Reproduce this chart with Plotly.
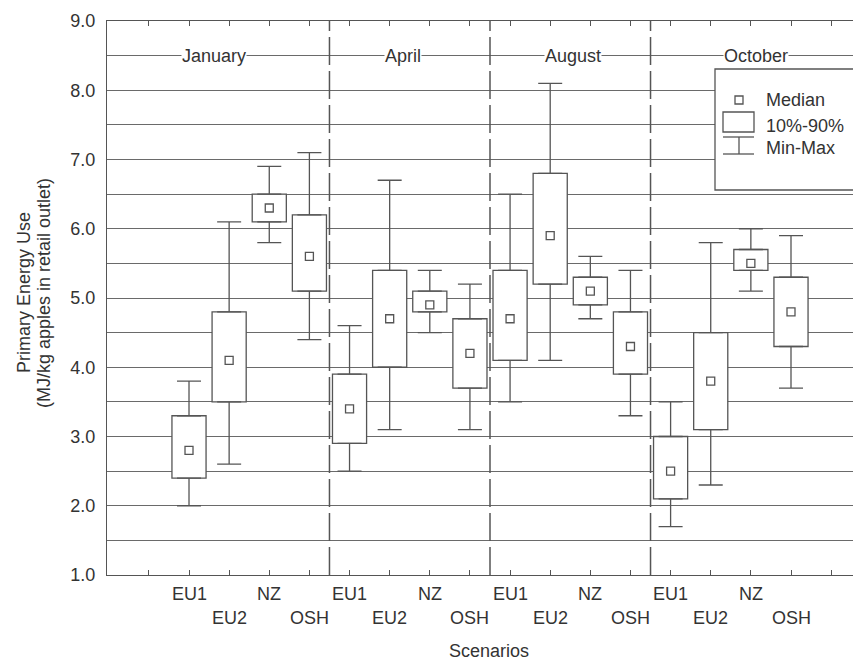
import plotly.graph_objects as go

# ---------------- data ----------------
months = ["January", "April", "August", "October"]
scenarios = ["EU1", "EU2", "NZ", "OSH"]

p_min = [2.0, 2.6, 5.8, 4.4,   2.5, 3.1, 4.5, 3.1,   3.5, 4.1, 4.7, 3.3,   1.7, 2.3, 5.1, 3.7]
p10   = [2.4, 3.5, 6.1, 5.1,   2.9, 4.0, 4.8, 3.7,   4.1, 5.2, 4.9, 3.9,   2.1, 3.1, 5.4, 4.3]
med   = [2.8, 4.1, 6.3, 5.6,   3.4, 4.7, 4.9, 4.2,   4.7, 5.9, 5.1, 4.3,   2.5, 3.8, 5.5, 4.8]
p90   = [3.3, 4.8, 6.5, 6.2,   3.9, 5.4, 5.1, 4.7,   5.4, 6.8, 5.3, 4.8,   3.0, 4.5, 5.7, 5.3]
p_max = [3.8, 6.1, 6.9, 7.1,   4.6, 6.7, 5.4, 5.2,   6.5, 8.1, 5.6, 5.4,   3.5, 5.8, 6.0, 5.9]

y_ticks = [1, 2, 3, 4, 5, 6, 7, 8, 9]
legend_labels = ["Median", "10%-90%", "Min-Max"]

# ---------------- layout constants ----------------
FONT = "Liberation Sans, Arial, sans-serif"
TXT = "#333333"
LINE = "#555555"
GRID = "#6a6a6a"
FS = 18

OFF = 7                      # page offset of the figure in the screenshot
PL, PR, PT, PB = 106, 861, 20, 574   # desired plot area in screenshot px
W = PR - OFF
H = 660 - OFF
ML = PL - OFF
MT = PT - OFF
MR = 0
MB = H - (PB - OFF)
PW, PH = PR - PL, PB - PT

def px_x(px):
    return (px - PL) / PW

def px_y(py):
    return (PB - py) / PH

n_s = len(scenarios)
labels = [s for m in months for s in scenarios]
pos = [2 + i for i in range(len(labels))]
month_label_x = [2.62, 7.33, 11.57, 16.13]
separators = [2 + n_s * (k + 1) - 0.5 for k in range(len(months) - 1)]

fig = go.Figure()

# 10%-90% boxes
fig.add_trace(go.Bar(
    x=pos, y=[h - l for h, l in zip(p90, p10)], base=p10, width=0.85,
    marker=dict(color="white", line=dict(color=LINE, width=1.3)),
    showlegend=False, hoverinfo="skip"))

# upper whiskers
fig.add_trace(go.Scatter(
    x=pos, y=p90, mode="markers",
    marker=dict(size=1, color="rgba(0,0,0,0)"),
    error_y=dict(type="data", symmetric=False,
                 array=[mx - h for mx, h in zip(p_max, p90)],
                 arrayminus=[0] * len(pos), width=12, thickness=1.3, color=LINE),
    showlegend=False, hoverinfo="skip"))

# lower whiskers
fig.add_trace(go.Scatter(
    x=pos, y=p10, mode="markers",
    marker=dict(size=1, color="rgba(0,0,0,0)"),
    error_y=dict(type="data", symmetric=False,
                 array=[0] * len(pos),
                 arrayminus=[l - mn for l, mn in zip(p10, p_min)],
                 width=12, thickness=1.3, color=LINE),
    showlegend=False, hoverinfo="skip"))

# medians
fig.add_trace(go.Scatter(
    x=pos, y=med, mode="markers",
    marker=dict(symbol="square-open", size=8, color=LINE, line=dict(width=1.3)),
    showlegend=False, hoverinfo="skip"))

shapes = []
for sx in separators:
    shapes.append(dict(type="line", xref="x", yref="paper", x0=sx, x1=sx, y0=0, y1=1,
                       line=dict(color=LINE, width=1.5, dash="28px,6px")))

# manual legend
shapes.append(dict(type="rect", xref="paper", yref="paper",
                   x0=px_x(714), x1=px_x(860), y0=px_y(189), y1=px_y(68),
                   fillcolor="white", line=dict(color=LINE, width=1.3), layer="above"))
shapes.append(dict(type="rect", xref="paper", yref="paper",
                   x0=px_x(734), x1=px_x(742), y0=px_y(103), y1=px_y(95),
                   fillcolor="white", line=dict(color=LINE, width=1.3), layer="above"))
shapes.append(dict(type="rect", xref="paper", yref="paper",
                   x0=px_x(722), x1=px_x(753), y0=px_y(131), y1=px_y(111),
                   fillcolor="white", line=dict(color=LINE, width=1.3), layer="above"))
for yy in (136, 153):
    shapes.append(dict(type="line", xref="paper", yref="paper",
                       x0=px_x(722), x1=px_x(753), y0=px_y(yy), y1=px_y(yy),
                       line=dict(color=LINE, width=1.3), layer="above"))
shapes.append(dict(type="line", xref="paper", yref="paper",
                   x0=px_x(738), x1=px_x(738), y0=px_y(136), y1=px_y(153),
                   line=dict(color=LINE, width=1.3), layer="above"))

annotations = []
for lab, yy in zip(legend_labels, (99, 125, 147)):
    annotations.append(dict(text=lab, xref="paper", yref="paper", x=px_x(763), y=px_y(yy),
                            xanchor="left", yanchor="middle", showarrow=False,
                            font=dict(family=FONT, size=FS, color=TXT)))

for m, mx in zip(months, month_label_x):
    annotations.append(dict(text=m, xref="x", yref="y", x=mx, y=8.5,
                            xanchor="center", yanchor="middle", showarrow=False,
                            bgcolor="white", borderpad=0,
                            font=dict(family=FONT, size=FS, color=TXT)))

for i, (lab, xp) in enumerate(zip(labels, pos)):
    lower = (i % 2 == 1)
    annotations.append(dict(text=lab, xref="x", yref="paper", x=xp, y=0,
                            xanchor="center", yanchor="middle", showarrow=False,
                            yshift=-43 if lower else -19,
                            font=dict(family=FONT, size=FS, color=TXT)))

annotations.append(dict(text="Scenarios", xref="paper", yref="paper", x=px_x(488), y=0,
                        xanchor="center", yanchor="middle", showarrow=False, yshift=-76,
                        font=dict(family=FONT, size=FS, color=TXT)))
annotations.append(dict(text="Primary Energy Use", xref="paper", yref="paper",
                        x=px_x(23), y=px_y(292), textangle=-90,
                        xanchor="center", yanchor="middle", showarrow=False,
                        font=dict(family=FONT, size=FS, color=TXT)))
annotations.append(dict(text="(MJ/kg apples in retail outlet)", xref="paper", yref="paper",
                        x=px_x(43), y=px_y(292), textangle=-90,
                        xanchor="center", yanchor="middle", showarrow=False,
                        font=dict(family=FONT, size=FS, color=TXT)))

x_lo = 2 - (188 - PL) / 40.13
x_hi = 17 + (PR - 790) / 40.13

fig.update_layout(
    width=W, height=H, autosize=False,
    margin=dict(l=ML, r=MR, t=MT, b=MB, pad=0),
    paper_bgcolor="white", plot_bgcolor="white",
    barmode="overlay", showlegend=False,
    font=dict(family=FONT, size=FS, color=TXT),
    shapes=shapes, annotations=annotations,
    xaxis=dict(range=[x_lo, x_hi], tickvals=list(range(1, 19)), showticklabels=False,
               ticks="inside", ticklen=5, tickcolor=LINE, showgrid=False, zeroline=False,
               showline=True, linecolor=LINE, linewidth=1.3, mirror="ticks"),
    yaxis=dict(range=[1, 9], tickvals=y_ticks, ticktext=[f"{v:.1f}" for v in y_ticks],
               ticks="", ticklabelstandoff=7, showgrid=True, gridcolor=GRID, gridwidth=1,
               minor=dict(dtick=0.5, tick0=0.5, showgrid=True, gridcolor=GRID, gridwidth=1),
               zeroline=False, showline=True, linecolor=LINE, linewidth=1.3,
               tickfont=dict(family=FONT, size=FS, color=TXT)),
)

fig.write_html("out.html")
